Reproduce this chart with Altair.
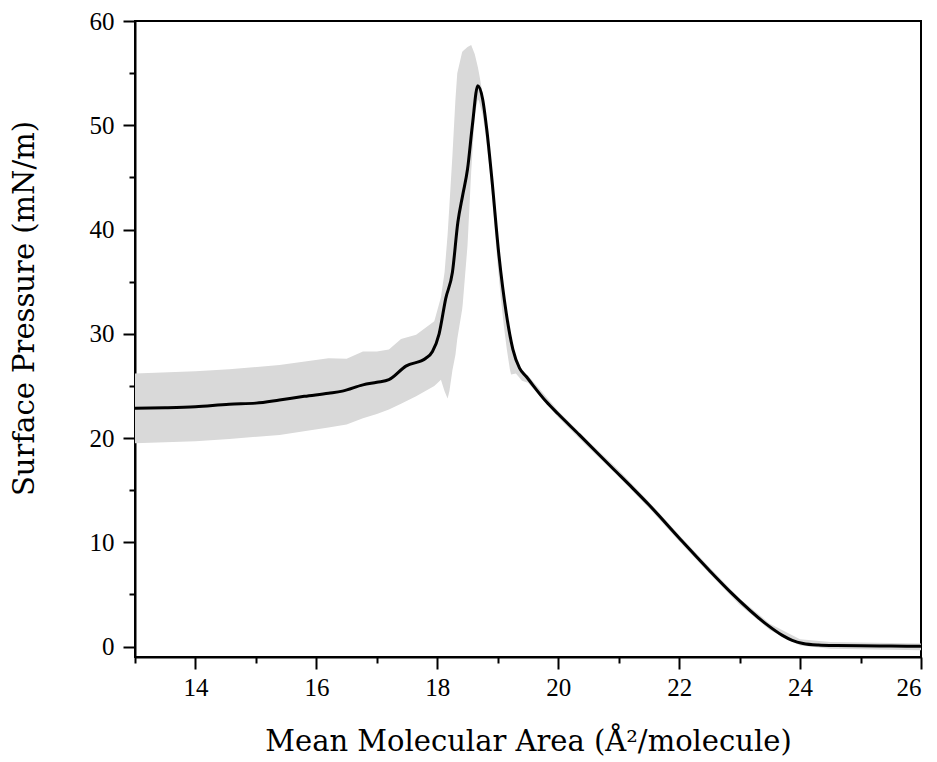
import altair as alt
import pandas as pd

# mean isotherm
line_x = [13.0, 13.5, 14.0, 14.56, 15.0, 15.39, 15.8, 16.2, 16.43, 16.77, 17.0, 17.2, 17.48,
          17.81, 17.92, 18.03, 18.14, 18.25, 18.34, 18.42, 18.5, 18.58, 18.67, 18.75, 18.82,
          18.9, 19.02, 19.14, 19.25, 19.36, 19.47, 19.8, 20.0, 20.35, 20.9, 21.23, 21.5, 22.05,
          22.5, 22.88, 23.43, 23.7, 23.87, 24.05, 24.3, 24.6, 25.0, 25.5, 26.0]
line_y = [22.85, 22.9, 23.0, 23.25, 23.35, 23.65, 24.0, 24.3, 24.5, 25.1, 25.35, 25.6, 26.9,
          27.65, 28.3, 30.0, 33.4, 35.9, 40.7, 43.3, 45.8, 50.0, 53.8, 52.5, 49.5,
          45.0, 37.5, 32.0, 28.5, 26.7, 25.9, 23.5, 22.3, 20.3, 17.1, 15.2, 13.6, 10.1,
          7.3, 5.05, 2.2, 1.1, 0.6, 0.3, 0.15, 0.1, 0.08, 0.05, 0.02]

# standard-deviation band
band_x = [13.0, 14.0, 14.56, 15.39, 16.2, 16.5, 16.77, 17.0, 17.2, 17.4, 17.65, 17.95, 18.06,
          18.12, 18.17, 18.2, 18.25, 18.3, 18.33, 18.41, 18.42, 18.5, 18.56, 18.62, 18.67,
          18.69, 18.75, 18.8, 18.85, 18.9, 18.95, 19.0, 19.05, 19.1, 19.15, 19.2, 19.22, 19.3,
          19.4, 19.5, 20.0, 20.5, 21.0, 21.5, 22.0, 22.5, 23.0, 23.5, 24.0, 24.5, 25.0, 25.5, 26.0]
band_lo = [19.5, 19.7, 19.9, 20.3, 21.0, 21.3, 21.9, 22.3, 22.75, 23.3, 24.0, 25.0, 25.6,
           24.5, 23.8, 24.5, 26.5, 28.0, 29.5, 32.3, 32.8, 38.5, 45.5, 51.0, 52.5,
           52.3, 51.0, 49.0, 46.5, 43.5, 40.0, 36.5, 33.5, 30.8, 28.5, 26.6, 26.1, 26.2,
           25.5, 25.3, 22.0, 19.1, 16.3, 13.3, 10.1, 7.0, 4.0, 1.6, 0.1, -0.2, -0.25, -0.3, -0.35]
band_hi = [26.2, 26.4, 26.6, 27.0, 27.65, 27.6, 28.3, 28.3, 28.5, 29.5, 29.9, 31.2, 33.5,
           35.9, 39.5, 42.3, 47.1, 52.5, 55.0, 57.0, 57.1, 57.5, 57.7, 56.8, 55.6,
           55.0, 53.0, 50.8, 48.5, 45.5, 42.0, 38.5, 36.0, 33.5, 31.5, 30.0, 29.3, 27.5,
           26.3, 26.0, 22.6, 19.7, 16.9, 13.9, 10.7, 7.6, 4.6, 2.2, 0.7, 0.45, 0.4, 0.35, 0.3]

x_major = [14, 16, 18, 20, 22, 24, 26]
x_minor = [13, 15, 17, 19, 21, 23, 25]
y_major = [0, 10, 20, 30, 40, 50, 60]
y_minor = [5, 15, 25, 35, 45, 55]

line_df = pd.DataFrame({"area": line_x, "pressure": line_y})
band_df = pd.DataFrame({"area": band_x, "lo": band_lo, "hi": band_hi})

LABEL_FONT = "Liberation Serif"
TITLE_FONT = "DejaVu Serif"

x_scale = alt.Scale(domain=[13, 26], nice=False, zero=False)
y_scale = alt.Scale(domain=[-1, 60], nice=False, zero=False)

x_axis = alt.Axis(
    values=x_major, format="d", orient="bottom",
    tickSize=12, title="Mean Molecular Area (Å²/molecule)",
    titlePadding=27, labelPadding=6, grid=False,
)
y_axis = alt.Axis(
    values=y_major, format="d", orient="left",
    tickSize=12, title="Surface Pressure (mN/m)",
    titlePadding=50, titleY=287, labelPadding=9, grid=False,
)
x_axis_minor = alt.Axis(values=x_minor, orient="bottom", tickSize=6, labels=False,
                        domain=False, title=None, grid=False)
y_axis_minor = alt.Axis(values=y_minor, orient="left", tickSize=6, labels=False,
                        domain=False, title=None, grid=False)

band = alt.Chart(band_df).mark_area(color="#d9d9d9", clip=True).encode(
    x=alt.X("area:Q", scale=x_scale, axis=x_axis),
    y=alt.Y("lo:Q", scale=y_scale, axis=y_axis),
    y2="hi:Q",
)

line = alt.Chart(line_df).mark_line(color="black", strokeWidth=3, interpolate="monotone", clip=True).encode(
    x=alt.X("area:Q", scale=x_scale, axis=x_axis_minor),
    y=alt.Y("pressure:Q", scale=y_scale, axis=y_axis_minor),
)

chart = alt.layer(band, line).resolve_axis(
    x="independent", y="independent"
).properties(
    width=786,
    height=636,
    autosize=alt.AutoSizeParams(type="none"),
    padding={"left": 127, "top": 13, "right": 8, "bottom": 100},
).configure_view(
    stroke="black", strokeWidth=2
).configure_axis(
    domainColor="black", domainWidth=2, tickColor="black", tickWidth=2,
    labelFont=LABEL_FONT, labelFontSize=25, labelColor="black",
    titleFont=TITLE_FONT, titleFontSize=29, titleFontWeight="normal", titleColor="black",
)

chart.save("out.html", embed_options={"renderer": "svg", "actions": False})
